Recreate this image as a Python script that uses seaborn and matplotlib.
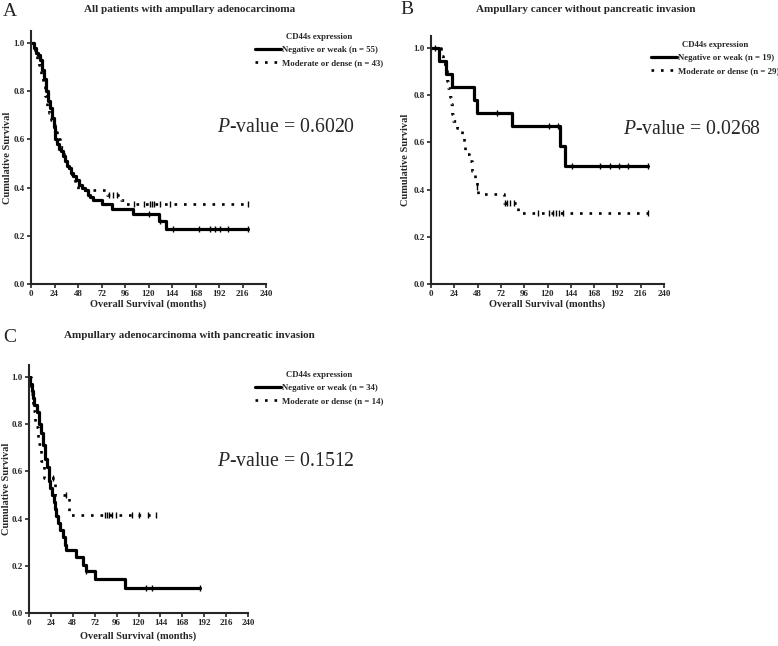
import numpy as np
import pandas as pd
import seaborn as sns
import matplotlib.pyplot as plt

# Kaplan-Meier steps: event months and survival after each step,
# plus months of censored patients (last one = end of follow-up)

# A: all patients
a_neg_t = [0, 3, 5, 7, 9, 11, 13, 15, 17, 19, 21, 23, 25, 27, 29, 31, 33, 35, 37, 39,
           41, 43, 46, 49, 52, 55, 58, 60, 63, 72, 83, 104, 131, 138]
a_neg_s = [1.0, 0.98, 0.96, 0.95, 0.93, 0.89, 0.85, 0.80, 0.76, 0.73, 0.69, 0.65, 0.60,
           0.58, 0.56, 0.55, 0.53, 0.51, 0.49, 0.48, 0.46, 0.45, 0.43, 0.41, 0.40, 0.39,
           0.37, 0.36, 0.35, 0.33, 0.31, 0.29, 0.26, 0.23]
a_neg_c = [121, 132, 145, 172, 183, 188, 193, 201, 222]
a_pos_t = [0, 2, 4, 6, 8, 10, 12, 14, 16, 18, 20, 22, 24, 27, 30, 33, 36, 39, 42, 45,
           48, 78, 92, 96]
a_pos_s = [1.0, 0.98, 0.96, 0.93, 0.91, 0.86, 0.82, 0.78, 0.74, 0.71, 0.68, 0.66, 0.63,
           0.60, 0.57, 0.54, 0.51, 0.47, 0.44, 0.42, 0.39, 0.37, 0.35, 0.33]
a_pos_c = [80, 84, 88, 105, 115, 122, 124, 126, 132, 142, 222]

# B: without pancreatic invasion
b_neg_t = [0, 8, 15, 22, 44, 47, 83, 133, 138]
b_neg_s = [1.0, 0.944, 0.889, 0.833, 0.778, 0.722, 0.667, 0.583, 0.5]
b_neg_c = [4, 68, 122, 131, 145, 174, 184, 194, 203, 224]
b_pos_t = [0, 10, 12, 16, 17, 20, 21, 22, 23, 27, 32, 34, 35, 39, 42, 45, 47, 48, 75, 90]
b_pos_s = [1.0, 0.966, 0.93, 0.86, 0.83, 0.79, 0.76, 0.72, 0.69, 0.66, 0.62, 0.59, 0.55,
           0.52, 0.48, 0.45, 0.41, 0.38, 0.345, 0.30]
b_pos_c = [47, 76, 78, 81, 86, 110, 122, 126, 129, 132, 136, 224]

# C: with pancreatic invasion
c_neg_t = [0, 1, 3, 4, 6, 9, 11, 13, 15, 17, 20, 22, 23, 25, 27, 28, 30, 32, 34, 37, 39,
           41, 51, 59, 63, 72, 105]
c_neg_s = [1.0, 0.97, 0.94, 0.91, 0.88, 0.85, 0.80, 0.76, 0.71, 0.65, 0.62, 0.56, 0.53,
           0.50, 0.47, 0.44, 0.41, 0.38, 0.35, 0.32, 0.29, 0.265, 0.235, 0.205, 0.176,
           0.145, 0.105]
c_neg_c = [63, 128, 135, 187]
c_pos_t = [0, 2, 4, 7, 10, 13, 16, 28, 44]
c_pos_s = [1.0, 0.929, 0.857, 0.786, 0.714, 0.643, 0.571, 0.50, 0.417]
c_pos_c = [26, 40, 83, 85, 88, 91, 95, 113, 120, 130, 139]

panel_titles = ["All patients with ampullary adenocarcinoma",
                "Ampullary cancer without pancreatic invasion",
                "Ampullary adenocarcinoma with pancreatic invasion"]
panel_letters = ["A", "B", "C"]
n_neg = [55, 19, 34]
n_pos = [43, 29, 14]
p_values = ["0.6020", "0.0268", "0.1512"]
x_ticks = list(range(0, 241, 24))
y_ticks = [0.0, 0.2, 0.4, 0.6, 0.8, 1.0]

sns.set_theme(style="ticks")
plt.rcParams['font.family'] = ['Liberation Serif', 'DejaVu Serif']
plt.rcParams['mathtext.fontset'] = 'custom'
plt.rcParams['mathtext.rm'] = 'Liberation Serif'
plt.rcParams['mathtext.it'] = 'Liberation Serif:italic'


def km_frame(t, s, c):
    # extend the last step to the end of follow-up
    end = max(max(t), max(c))
    return pd.DataFrame({'month': list(t) + [end], 'surv': list(s) + [s[-1]]})


def cens_frame(t, s, c):
    idx = np.searchsorted(t, c, side='right') - 1
    return pd.DataFrame({'month': c, 'surv': np.array(s)[idx]})


def draw(ax, neg, pos, labels):
    styles = [('-', 2.3), ((0, (1, 2.6)), 1.9)]
    for (t, s, c), (ls, lw), lab in zip([neg, pos], styles, labels):
        sns.lineplot(data=km_frame(t, s, c), x='month', y='surv', ax=ax,
                     drawstyle='steps-post', color='black', linewidth=lw,
                     linestyle=ls, estimator=None, sort=False, label=lab)
        sns.scatterplot(data=cens_frame(t, s, c), x='month', y='surv', ax=ax,
                        marker='|', s=22, color='black', linewidth=1.0)
    ax.set_xlim(0, 240)
    ax.set_ylim(0, 1.05)
    ax.set_xticks(x_ticks)
    ax.set_yticks(y_ticks)
    ax.set_yticklabels([f"{v:.1f}" for v in y_ticks])
    ax.tick_params(direction='out', length=3, width=1.2, labelsize=6.5, pad=1.5)
    for lab in ax.get_xticklabels() + ax.get_yticklabels():
        lab.set_fontweight('bold')
    for sp in ['left', 'bottom']:
        ax.spines[sp].set_linewidth(1.5)
    sns.despine(ax=ax)
    ax.set_xlabel("Overall Survival (months)", fontsize=7.5, fontweight='bold')
    ax.set_ylabel("Cumulative Survival", fontsize=7.5, fontweight='bold')


fig = plt.figure(figsize=(7.78, 6.46), dpi=100)
W, H = 778, 646

# axes boxes in pixels: left, top(ylim top), right, bottom(y=0)
boxes = [(31, 31, 266, 284), (431, 36, 664, 284), (29, 365, 248, 613)]
curves = [((a_neg_t, a_neg_s, a_neg_c), (a_pos_t, a_pos_s, a_pos_c)),
          ((b_neg_t, b_neg_s, b_neg_c), (b_pos_t, b_pos_s, b_pos_c)),
          ((c_neg_t, c_neg_s, c_neg_c), (c_pos_t, c_pos_s, c_pos_c))]
title_pos = [(190, 9), (586, 9), (189, 336)]
letter_pos = [(3, 12), (400, 10), (3, 337)]
legend_pos = [(251, 29), (647, 37), (251, 367)]
pval_pos = [(217, 127), (623, 130), (217, 462)]
xlabel_y = [-0.062, -0.064, -0.076]
ylabel_x = [-0.08, -0.088, -0.082]

for i in range(3):
    l, t, r, b = boxes[i]
    ax = fig.add_axes([l / W, 1 - b / H, (r - l) / W, (b - t) / H])
    labels = [f"Negative or weak (n = {n_neg[i]})", f"Moderate or dense (n = {n_pos[i]})"]
    draw(ax, curves[i][0], curves[i][1], labels)
    ax.xaxis.set_label_coords(0.5, xlabel_y[i])
    ax.yaxis.set_label_coords(ylabel_x[i], 0.5)
    ax.legend(handles=ax.get_lines()[:2], labels=labels, title="CD44s expression",
              loc='upper left', bbox_to_anchor=(legend_pos[i][0] / W, 1 - legend_pos[i][1] / H),
              bbox_transform=fig.transFigure, frameon=False, borderpad=0,
              handlelength=2.9, handletextpad=0.1, labelspacing=0.55,
              prop={'size': 6.3, 'weight': 'bold'},
              title_fontproperties={'size': 6.3, 'weight': 'bold'})
    fig.text(title_pos[i][0] / W, 1 - title_pos[i][1] / H, panel_titles[i],
             ha='center', va='center', fontsize=8, fontweight='bold')
    fig.text(letter_pos[i][0] / W, 1 - letter_pos[i][1] / H, panel_letters[i],
             ha='left', va='center', fontsize=14)
    fig.text(pval_pos[i][0] / W, 1 - pval_pos[i][1] / H,
             r"$\mathit{P}$-value = " + p_values[i],
             ha='left', va='center', fontsize=14.2)

fig.savefig("out.png", dpi=100)
